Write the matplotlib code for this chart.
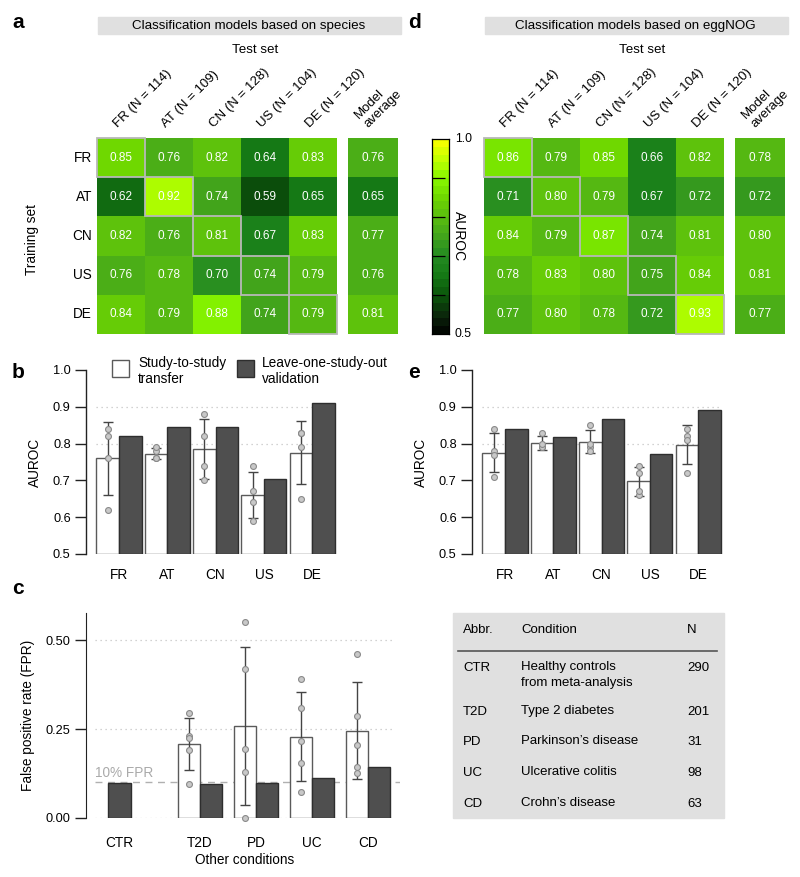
import numpy as np
import matplotlib
matplotlib.use('Agg')
import matplotlib.pyplot as plt
from matplotlib.colors import LinearSegmentedColormap, ListedColormap, BoundaryNorm
from matplotlib.patches import Rectangle
from matplotlib.lines import Line2D

plt.rcParams['font.family'] = ['Liberation Sans', 'DejaVu Sans']

# ---------------- data ----------------
studies = ['FR', 'AT', 'CN', 'US', 'DE']
study_n = [114, 109, 128, 104, 120]

species_auroc = [
    [0.85, 0.76, 0.82, 0.64, 0.83],
    [0.62, 0.92, 0.74, 0.59, 0.65],
    [0.82, 0.76, 0.81, 0.67, 0.83],
    [0.76, 0.78, 0.70, 0.74, 0.79],
    [0.84, 0.79, 0.88, 0.74, 0.79],
]
species_avg = [0.76, 0.65, 0.77, 0.76, 0.81]

eggnog_auroc = [
    [0.86, 0.79, 0.85, 0.66, 0.82],
    [0.71, 0.80, 0.79, 0.67, 0.72],
    [0.84, 0.79, 0.87, 0.74, 0.81],
    [0.78, 0.83, 0.80, 0.75, 0.84],
    [0.77, 0.80, 0.78, 0.72, 0.93],
]
eggnog_avg = [0.78, 0.72, 0.80, 0.81, 0.77]

species_loso = [0.821, 0.846, 0.844, 0.703, 0.909]
eggnog_loso = [0.840, 0.819, 0.866, 0.773, 0.890]

conditions = ['CTR', 'T2D', 'PD', 'UC', 'CD']
fpr_loso = [0.098, 0.096, 0.097, 0.113, 0.143]
fpr_T2D = [0.294, 0.231, 0.224, 0.191, 0.096]
fpr_PD = [0.550, 0.420, 0.195, 0.130, 0.000]
fpr_UC = [0.391, 0.309, 0.216, 0.154, 0.072]
fpr_CD = [0.461, 0.286, 0.206, 0.143, 0.127]
fpr_transfer = [None, fpr_T2D, fpr_PD, fpr_UC, fpr_CD]

table_abbr = ['CTR', 'T2D', 'PD', 'UC', 'CD']
table_cond = ['Healthy controls\nfrom meta-analysis', 'Type 2 diabetes',
              "Parkinson\u2019s disease", 'Ulcerative colitis', "Crohn\u2019s disease"]
table_n = [290, 201, 31, 98, 63]

# ---------------- style ----------------
W, H = 800, 877
fig = plt.figure(figsize=(8, 8.77), dpi=100)

def axpx(x0, y0, x1, y1):
    return fig.add_axes([x0 / W, 1 - y1 / H, (x1 - x0) / W, (y1 - y0) / H])

def fx(x):
    return x / W

def fy(y):
    return 1 - y / H

anchors = [(0.00, '#000000'), (0.10, '#0c2a0c'), (0.20, '#0b560b'), (0.30, '#167a16'),
           (0.40, '#248b22'), (0.50, '#42a41c'), (0.60, '#5abd10'), (0.70, '#6fd800'),
           (0.80, '#88f800'), (0.90, '#c4ff00'), (1.00, '#ffff00')]
base = LinearSegmentedColormap.from_list('auroc', anchors)
nlev = 25
cmap = ListedColormap([base((i + 0.5) / nlev) for i in range(nlev)])
norm = BoundaryNorm(np.linspace(0.5, 1.0, nlev + 1), nlev)

GRAYBOX = '#e0e0e0'
DARK = '#4f4f4f'

def heatmap(x0, x1, xa0, xa1, mat, avg, title):
    top, bot = 138, 334
    M = np.array(mat)
    ax = axpx(x0, top, x1, bot)
    ax.imshow(M, cmap=cmap, norm=norm, aspect='auto', interpolation='nearest',
              extent=(-0.5, 4.5, 4.5, -0.5))
    for i in range(5):
        for j in range(5):
            ax.text(j, i, f'{M[i, j]:.2f}', ha='center', va='center', color='white', fontsize=8.5)
    for i in range(5):
        ax.add_patch(Rectangle((i - 0.5, i - 0.5), 1, 1, fill=False, ec='#b8b8b8', lw=1.3,
                               clip_on=False, zorder=4))
    ax.set_xlim(-0.5, 4.5)
    ax.set_ylim(4.5, -0.5)
    ax.axis('off')
    # column labels
    for j, (s, n) in enumerate(zip(studies, study_n)):
        ax.text(j - 0.03, -0.5 - 0.2, f'{s} (N = {n})', rotation=45, ha='left', va='bottom',
                rotation_mode='anchor', fontsize=9.5)
    # avg column
    axa = axpx(xa0, top, xa1, bot)
    A = np.array(avg).reshape(-1, 1)
    axa.imshow(A, cmap=cmap, norm=norm, aspect='auto', interpolation='nearest',
               extent=(-0.5, 0.5, 4.5, -0.5))
    for i in range(5):
        axa.text(0, i, f'{avg[i]:.2f}', ha='center', va='center', color='white', fontsize=8.5)
    axa.set_xlim(-0.5, 0.5)
    axa.set_ylim(4.5, -0.5)
    axa.axis('off')
    axa.text(-0.05, -0.5 - 0.2, 'Model\naverage', rotation=45, ha='left', va='bottom',
             rotation_mode='anchor', fontsize=9.5, linespacing=1.15)
    # banner
    fig.patches.append(Rectangle((fx(x0 + 1), fy(34)), (xa1 - x0 + 2) / W, 17 / H,
                                 transform=fig.transFigure, color=GRAYBOX, zorder=0))
    fig.text(fx((x0 + xa1) / 2 + 1), fy(25.5), title, ha='center', va='center', fontsize=9.6)
    fig.text(fx((x0 + xa1) / 2 + 8), fy(50), 'Test set', ha='center', va='center', fontsize=9.6)
    return ax

# ---- panel a ----
axa_h = heatmap(97, 337, 348, 398, species_auroc, species_avg,
                'Classification models based on species')
for i, s in enumerate(studies):
    axa_h.text(-0.6, i, s, ha='right', va='center', fontsize=9.8)
fig.text(fx(32), fy(240), 'Training set', rotation=90, ha='center', va='center', fontsize=9.8)

# ---- panel d ----
heatmap(484, 724, 735, 785, eggnog_auroc, eggnog_avg,
        'Classification models based on eggNOG')

# colorbar
cax = axpx(432, 139, 449, 334)
grad = np.linspace(0.5, 1.0, 500).reshape(-1, 1)
cax.imshow(grad, cmap=cmap, norm=norm, aspect='auto', origin='lower',
           extent=(0, 1, 0.5, 1.0), interpolation='nearest')
cax.set_xlim(0, 1)
cax.set_ylim(0.5, 1.0)
cax.set_xticks([])
cax.set_yticks([0.6, 0.7, 0.8, 0.9])
cax.tick_params(axis='y', direction='in', length=9, width=0.9, left=True, right=False,
                labelleft=False)
for sp in cax.spines.values():
    sp.set_linewidth(0.9)
cax.text(1.35, 1.0, '1.0', transform=cax.transData, ha='left', va='center', fontsize=8.8)
cax.text(1.35, 0.5, '0.5', transform=cax.transData, ha='left', va='center', fontsize=8.8)
fig.text(fx(459), fy(236), 'AUROC', rotation=-90, ha='center', va='center', fontsize=10)

# ---- bar panels b, e ----
def barpanel(x0, x1, mat, loso):
    ax = axpx(x0, 370, x1, 554)
    M = np.array(mat)
    w = 0.466
    for y in (0.8, 0.9):
        ax.plot([-w, 4 + w], [y, y], color='#c4c4c4', lw=0.9, ls=(0, (1, 3)), zorder=0)
    for j in range(5):
        pts = np.array([M[i, j] for i in range(5) if i != j])
        m = pts.mean()
        sd = pts.std(ddof=1)
        ax.bar(j - w / 2, m - 0.5, bottom=0.5, width=w, color='white', edgecolor='#5a5a5a',
               lw=1.0, zorder=2)
        ax.bar(j + w / 2, loso[j] - 0.5, bottom=0.5, width=w, color=DARK, edgecolor='#2e2e2e',
               lw=1.0, zorder=2)
        ax.errorbar(j - w / 2, m, yerr=sd, fmt='none', ecolor='#444444', elinewidth=1.0,
                    capsize=3.3, capthick=1.0, zorder=3)
        ax.scatter(np.full(len(pts), j - w / 2), pts, s=18, facecolor='#c8c8c8',
                   edgecolor='#8a8a8a', lw=0.8, zorder=4)
    ax.set_xlim(-0.683, 4.575)
    ax.set_ylim(0.5, 1.0)
    ax.set_yticks([0.5, 0.6, 0.7, 0.8, 0.9, 1.0])
    ax.set_yticklabels(['0.5', '0.6', '0.7', '0.8', '0.9', '1.0'])
    ax.set_xticks(range(5))
    ax.set_xticklabels(studies)
    ax.tick_params(axis='y', length=8, width=1.0, labelsize=9.2, pad=3, color='#222222')
    ax.tick_params(axis='x', length=0, labelsize=9.8, pad=10)
    for s in ('top', 'right', 'bottom'):
        ax.spines[s].set_visible(False)
    ax.spines['left'].set_linewidth(1.0)
    ax.spines['left'].set_color('#222222')
    ax.set_ylabel('AUROC', fontsize=9.8, labelpad=8)
    return ax

axb = barpanel(86, 340, species_auroc, species_loso)
axe = barpanel(472, 726, eggnog_auroc, eggnog_loso)

# legend for b
fig.patches.append(Rectangle((fx(112), fy(377)), 17 / W, 17 / H, transform=fig.transFigure,
                             facecolor='white', edgecolor='#5a5a5a', lw=1.0))
fig.text(fx(138), fy(356), 'Study-to-study\ntransfer', ha='left', va='top', fontsize=9.8,
         linespacing=1.15)
fig.patches.append(Rectangle((fx(237), fy(377)), 17 / W, 17 / H, transform=fig.transFigure,
                             facecolor=DARK, edgecolor='#2e2e2e', lw=1.0))
fig.text(fx(262), fy(356), 'Leave-one-study-out\nvalidation', ha='left', va='top', fontsize=9.8,
         linespacing=1.15)

# ---- panel c ----
axc = axpx(86, 613, 400, 818)
wc = 0.40
pos_c = [-1.4375, 0, 1, 2, 3]
for y in (0.0, 0.25, 0.5):
    axc.plot([-1.875, 3.45], [y, y], color='#c4c4c4', lw=0.9, ls=(0, (1, 3)), zorder=0)
axc.plot([-1.875, 3.571], [0.10, 0.10], color='#b0b0b0', lw=1.0, ls=(0, (5, 4)), zorder=1)
axc.text(-1.875, 0.108, '10% FPR', color='#aaaaaa', fontsize=9.8, ha='left', va='bottom')
axc.bar(pos_c[0], fpr_loso[0], width=wc, color=DARK, edgecolor='#2e2e2e', lw=1.0, zorder=2)
for k in range(1, 5):
    pts = np.array(fpr_transfer[k])
    m = pts.mean()
    sd = pts.std(ddof=1)
    xw = pos_c[k] - wc / 2
    axc.bar(xw, m, width=wc, color='white', edgecolor='#5a5a5a', lw=1.0, zorder=2)
    axc.bar(pos_c[k] + wc / 2, fpr_loso[k], width=wc, color=DARK, edgecolor='#2e2e2e',
            lw=1.0, zorder=2)
    axc.errorbar(xw, m, yerr=sd, fmt='none', ecolor='#444444', elinewidth=1.0,
                 capsize=3.3, capthick=1.0, zorder=3)
    axc.scatter(np.full(len(pts), xw), pts, s=18, facecolor='#c8c8c8',
                edgecolor='#8a8a8a', lw=0.8, zorder=4, clip_on=False)
axc.set_xlim(-2.036, 3.571)
axc.set_ylim(0, 0.576)
axc.set_yticks([0, 0.25, 0.5])
axc.set_yticklabels(['0.00', '0.25', '0.50'])
axc.set_xticks([pos_c[0], 0, 1, 2, 3])
axc.set_xticklabels(conditions)
axc.tick_params(axis='y', length=8, width=1.0, labelsize=9.2, pad=3, color='#222222')
axc.tick_params(axis='x', length=0, labelsize=9.8, pad=13)
for s in ('top', 'right', 'bottom'):
    axc.spines[s].set_visible(False)
axc.spines['left'].set_color('#222222')
axc.set_ylabel('False positive rate (FPR)', fontsize=9.8, labelpad=8)
fig.text(fx(245), fy(860), 'Other conditions', ha='center', va='center', fontsize=9.8)

# ---- table ----
fig.patches.append(Rectangle((fx(453), fy(818)), (724 - 453) / W, (818 - 613) / H,
                             transform=fig.transFigure, color=GRAYBOX, zorder=0))
fig.add_artist(Line2D([fx(458), fx(717)], [fy(651), fy(651)], color='#555555', lw=1.2))
fig.text(fx(463), fy(630), 'Abbr.', ha='left', va='center', fontsize=9.5)
fig.text(fx(521), fy(630), 'Condition', ha='left', va='center', fontsize=9.5)
fig.text(fx(687), fy(630), 'N', ha='left', va='center', fontsize=9.5)
row_y = [668, 712, 742, 773, 804]
for a, c, n, y in zip(table_abbr, table_cond, table_n, row_y):
    fig.text(fx(463), fy(y), a, ha='left', va='center', fontsize=9.5)
    fig.text(fx(521), fy(y - 7), c, ha='left', va='top', fontsize=9.5, linespacing=1.45)
    fig.text(fx(687), fy(y), str(n), ha='left', va='center', fontsize=9.5)

# ---- panel labels ----
for lab, x, y in [('a', 12, 23), ('d', 408, 23), ('b', 12, 372), ('e', 408, 372), ('c', 12, 588)]:
    fig.text(fx(x), fy(y), lab, ha='left', va='center', fontsize=15, fontweight='bold')

fig.savefig('out.png', dpi=100)
